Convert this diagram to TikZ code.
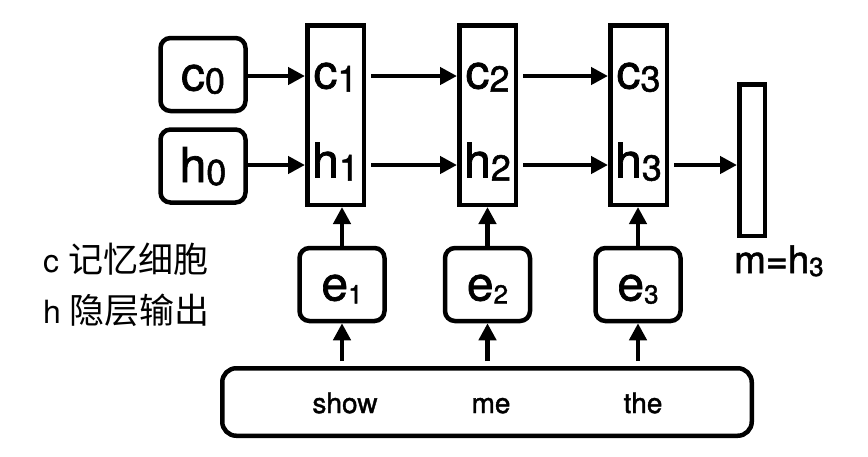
\documentclass[tikz,border=0pt]{standalone}
\usepackage{fontspec}
\setmainfont{TeX Gyre Heros}
\newfontfamily\medium[FakeBold=1.4]{TeX Gyre Heros}
\newfontfamily\cjk{Noto Sans CJK SC}
\usetikzlibrary{arrows.meta}
\newcommand\bigidx[1]{{\fontsize{36}{36}\selectfont\raisebox{-3pt}{#1}}}
\newcommand\smallidx[1]{{\fontsize{26}{26}\selectfont\raisebox{-3pt}{#1}}}
\tikzset{
  roundbox/.style={draw,line width=4.5pt,rounded corners=10pt,minimum width=85pt,minimum height=73pt,inner sep=0pt,text height=32pt,text depth=0pt,font=\medium\fontsize{48}{48}\selectfont},
  cell/.style={draw,line width=4.5pt,minimum width=56.5pt,minimum height=179.5pt,inner sep=0pt},
  lab/.style={inner sep=0pt,text height=25pt,text depth=0pt,font=\medium\fontsize{48}{48}\selectfont},
  arr/.style={-{Triangle[length=17pt,width=17pt]},line width=4.5pt},
  word/.style={inner sep=0pt,anchor=base,font=\medium\fontsize{28}{28}\selectfont}
}
\begin{document}
\begin{tikzpicture}[x=1pt,y=-1pt]%encoder LSTM
\useasboundingbox (0,0) rectangle (868,456);
\node[roundbox] (c0) at (203,74.5) {c\bigidx{0}};
\node[roundbox] (h0) at (203,166) {h\bigidx{0}};
\foreach \i/\x in {1/335.5,2/487.5,3/638.5} {
  \node[cell] (cell\i) at (\x,115) {};
  \node[lab] (c\i) at (\x,76) {c\bigidx{\i}};
  \node[lab] (h\i) at (\x,165) {h\bigidx{\i}};
}
\foreach \i/\x in {1/342,2/487.5,3/638}
  \node[roundbox] (e\i) at (\x,284.5) {e\smallidx{\i}};
\node[cell,minimum width=25.5pt,minimum height=151.5pt] (m) at (752,160) {};
\node[anchor=base west,inner sep=0pt,font=\medium\fontsize{38}{38}\selectfont] (mlab) at (734,273) {m=h\smallidx{3}};
\node[roundbox,minimum width=529.5pt,minimum height=67.5pt,rounded corners=14pt] (sent) at (487,402) {};
\node[word] (w1) at (345,413) {show};
\node[word] (w2) at (491,413) {me};
\node[word] (w3) at (643,413) {the};
\node[anchor=base west,inner sep=0pt,font=\fontsize{32}{32}\selectfont] (leg1) at (43,272) {c {\cjk\fontsize{35}{35}\selectfont 记忆细胞}};
\node[anchor=base west,inner sep=0pt,font=\fontsize{32}{32}\selectfont] (leg2) at (43,323) {h {\cjk\fontsize{35}{35}\selectfont 隐层输出}};
\draw[arr] (c0.east |- c1) -- (cell1.west |- c1);
\draw[arr] (h0.east |- h1) -- (cell1.west |- h1);
\foreach \i/\j in {1/2,2/3} {
  \draw[arr,shorten <=5pt] (cell\i.east |- c\i) -- (cell\j.west |- c\j);
  \draw[arr,shorten <=5pt] (cell\i.east |- h\i) -- (cell\j.west |- h\j);
}
\draw[arr,shorten <=5pt] (cell3.east |- h3) -- (m.west |- h3);
\foreach \i in {1,2,3} {
  \draw[arr] (e\i.north) -- (e\i.north |- cell\i.south);
  \draw[arr,shorten <=5pt] (e\i.south |- sent.north) -- (e\i.south);
}
\end{tikzpicture}
\end{document}
